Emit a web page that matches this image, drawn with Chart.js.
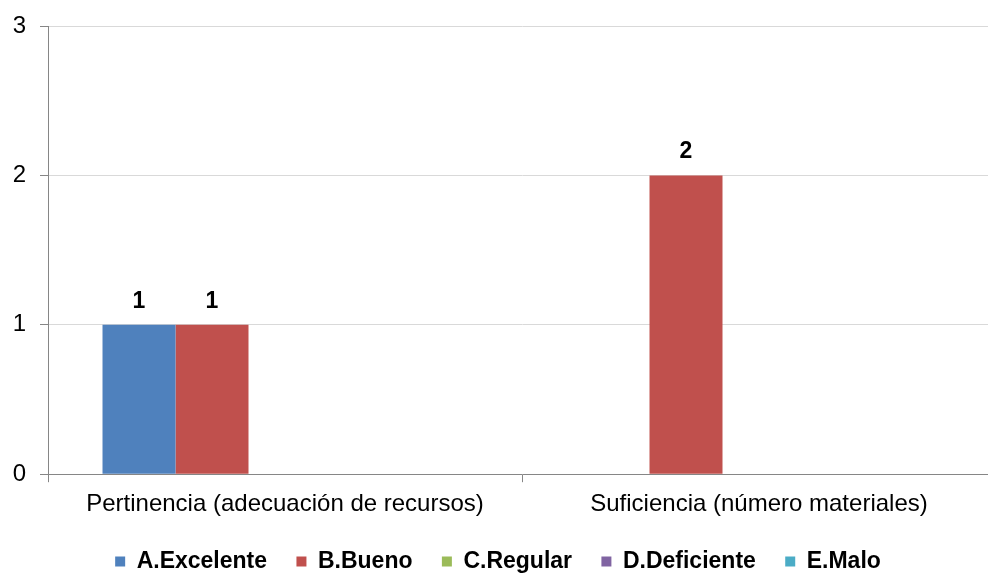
<!DOCTYPE html>
<html>
<head>
<meta charset="utf-8">
<script src="https://cdn.jsdelivr.net/npm/chart.js@4"></script>
<style>
  html, body { margin: 0; padding: 0; background: #fff; overflow: hidden; }
  #wrap { width: 1000px; height: 583px; }
</style>
</head>
<body>
<div id="wrap"><canvas id="myChart" width="1000" height="583"></canvas></div>
<script>
const categories = ["Pertinencia (adecuación de recursos)", "Suficiencia (número materiales)"];
const excelente = [1, 0];
const bueno = [1, 2];
const regular = [0, 0];
const deficiente = [0, 0];
const malo = [0, 0];
const yTicks = [0, 1, 2, 3];

const mk = (label, values, color) => ({
  label: label,
  data: values,
  backgroundColor: color,
  borderWidth: 0,
  barPercentage: 1,
  categoryPercentage: 0.77,
});

const data = {
  labels: categories,
  datasets: [
    mk("A.Excelente", excelente, "#4F81BD"),
    mk("B.Bueno", bueno, "#C0504D"),
    mk("C.Regular", regular, "#9BBB59"),
    mk("D.Deficiente", deficiente, "#8064A2"),
    mk("E.Malo", malo, "#4BACC6"),
  ],
};

// value labels above the bars (only non zero)
const barLabels = {
  id: "barLabels",
  afterDatasetsDraw(chart) {
    const ctx = chart.ctx;
    ctx.save();
    ctx.font = "bold 23px 'Liberation Sans', Arial, sans-serif";
    ctx.fillStyle = "#000";
    ctx.textAlign = "center";
    ctx.textBaseline = "alphabetic";
    chart.data.datasets.forEach((ds, i) => {
      chart.getDatasetMeta(i).data.forEach((bar, j) => {
        if (ds.data[j] > 0) {
          ctx.fillText(String(ds.data[j]), bar.x, bar.y - 17);
        }
      });
    });
    ctx.restore();
  },
};

const config = {
  type: "bar",
  data: data,
  plugins: [barLabels],
  options: {
    responsive: false,
    maintainAspectRatio: false,
    animation: false,
    layout: {
      padding: { top: 2, right: 4, left: 0, bottom: 0 },
    },
    scales: {
      x: {
        grid: {
          offset: true,
          drawOnChartArea: false,
          drawTicks: true,
          tickLength: 8,
          tickColor: "#868686",
        },
        border: { color: "#868686", width: 1 },
        ticks: {
          color: "#000",
          font: { family: "'Liberation Sans', Arial, sans-serif", size: 24 },
          padding: 8,
          maxRotation: 0,
        },
      },
      y: {
        min: 0,
        max: 3,
        afterBuildTicks: (axis) => {
          axis.ticks = yTicks.map((v) => ({ value: v }));
        },
        afterFit: (axis) => {
          axis.width = 48;
        },
        grid: {
          color: "#d9d9d9",
          drawTicks: true,
          tickLength: 8,
          tickColor: "#868686",
        },
        border: { color: "#868686", width: 1 },
        ticks: {
          color: "#000",
          font: { family: "'Liberation Sans', Arial, sans-serif", size: 24, lineHeight: 1 },
          padding: 14,
        },
      },
    },
    plugins: {
      legend: {
        position: "bottom",
        labels: {
          boxWidth: 10,
          boxHeight: 10,
          padding: 23,
          color: "#000",
          font: { family: "'Liberation Sans', Arial, sans-serif", size: 23, weight: "bold" },
          // a little extra room between items, as in the original
          generateLabels: (chart) => {
            const items = Chart.defaults.plugins.legend.labels.generateLabels(chart);
            items.forEach((it, i) => {
              if (i < items.length - 1) it.text = it.text + " ";
            });
            return items;
          },
        },
      },
      title: { display: false },
      tooltip: { enabled: false },
    },
  },
};

const ctx = document.getElementById("myChart").getContext("2d");
new Chart(ctx, config);
</script>
</body>
</html>
